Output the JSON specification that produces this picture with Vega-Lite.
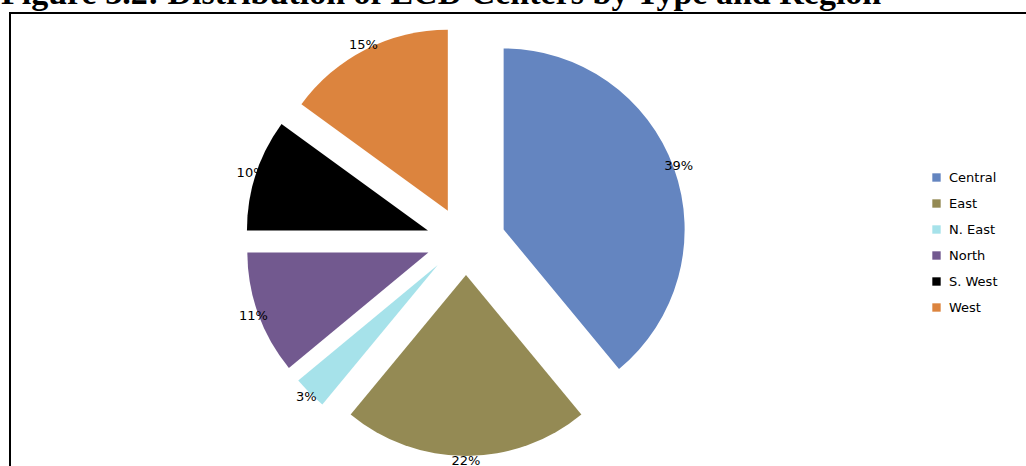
{
  "$schema": "https://vega.github.io/schema/vega-lite/v6.json",
  "width": 1030,
  "height": 460,
  "autosize": "none",
  "padding": {"left": 10, "top": 13, "right": 0, "bottom": 0},
  "background": "white",
  "title": {
    "text": "Figure 3.2: Distribution of ECD Centers by Type and Region",
    "anchor": "start",
    "frame": "group",
    "font": "Liberation Serif",
    "fontSize": 34,
    "fontWeight": "bold",
    "color": "black",
    "baseline": "alphabetic",
    "offset": 0,
    "dy": 25,
    "dx": -9
  },
  "config": {
    "view": {"stroke": "black", "strokeWidth": 2},
    "font": "DejaVu Sans"
  },
  "data": {
    "values": [
      {"region": "Central", "pct": 39, "idx": 1},
      {"region": "East", "pct": 22, "idx": 2},
      {"region": "N. East", "pct": 3, "idx": 3},
      {"region": "North", "pct": 11, "idx": 4},
      {"region": "S. West", "pct": 10, "idx": 5},
      {"region": "West", "pct": 15, "idx": 6}
    ]
  },
  "transform": [
    {"joinaggregate": [{"op": "sum", "field": "pct", "as": "total"}]},
    {"window": [{"op": "sum", "field": "pct", "as": "cum"}], "sort": [{"field": "idx"}], "frame": [null, 0]},
    {"calculate": "sin((datum.cum - datum.pct / 2) / datum.total * 2 * PI)", "as": "ux"},
    {"calculate": "cos((datum.cum - datum.pct / 2) / datum.total * 2 * PI)", "as": "uy"},
    {"calculate": "datum.pct + '%'", "as": "label"}
  ],
  "encoding": {
    "theta": {"field": "pct", "type": "quantitative", "stack": true},
    "order": {"field": "idx", "type": "quantitative"},
    "x": {"field": "ux", "type": "quantitative", "axis": null, "scale": {"domain": [-1, 1], "range": [416, 496], "zero": false, "nice": false}},
    "y": {"field": "uy", "type": "quantitative", "axis": null, "scale": {"domain": [-1, 1], "range": [262, 194], "zero": false, "nice": false}}
  },
  "layer": [
    {
      "mark": {"type": "arc", "outerRadius": 181},
      "encoding": {
        "color": {
          "field": "region",
          "type": "nominal",
          "scale": {
            "domain": ["Central", "East", "N. East", "North", "S. West", "West"],
            "range": ["#6485c0", "#948a54", "#a6e2ea", "#72598f", "#000000", "#dc843e"]
          },
          "legend": {
            "title": null,
            "orient": "none",
            "legendX": 920,
            "legendY": 158,
            "padding": 0,
            "symbolType": "square",
            "symbolSize": 70,
            "symbolStrokeWidth": 0,
            "labelFont": "DejaVu Sans",
            "labelFontSize": 13,
            "labelColor": "black",
            "rowPadding": 12,
            "labelOffset": 6
          }
        }
      }
    },
    {
      "mark": {"type": "text", "radius": 186, "font": "DejaVu Sans", "fontSize": 13, "color": "black"},
      "encoding": {
        "text": {"field": "label", "type": "nominal"}
      }
    }
  ]
}
